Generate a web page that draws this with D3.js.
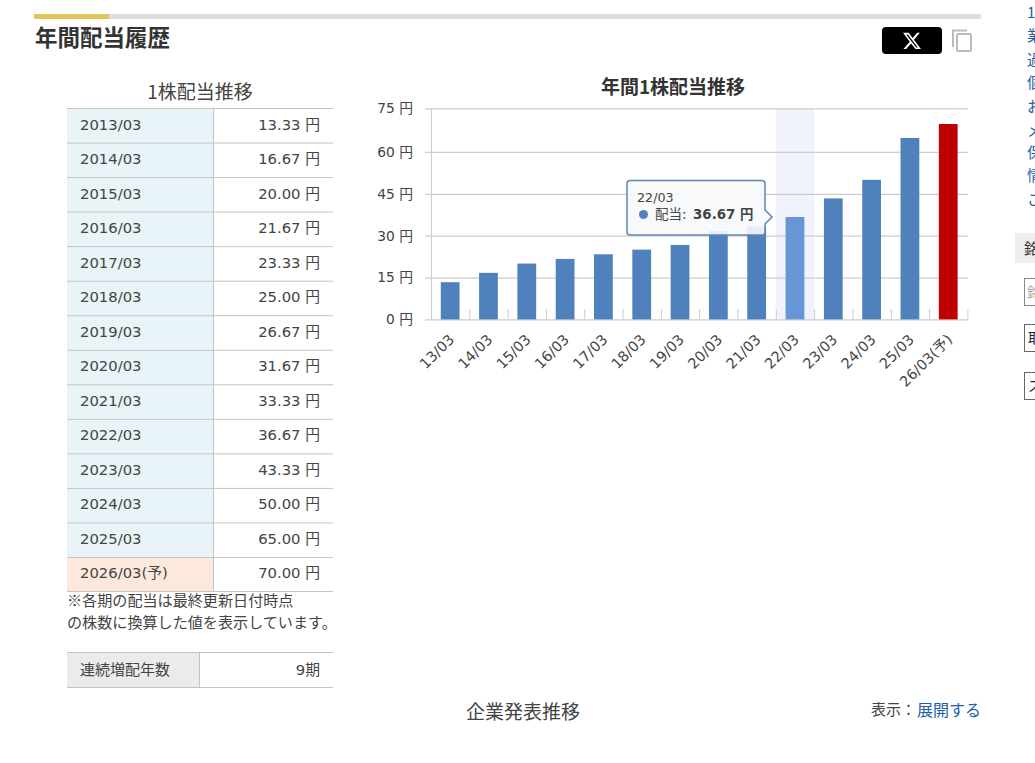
<!DOCTYPE html>
<html lang="ja">
<head>
<meta charset="utf-8">
<script src="https://cdn.jsdelivr.net/npm/d3@7"></script>
<style>
html, body { margin: 0; padding: 0; background: #fff; overflow: hidden; }
svg { display: block; }
text { font-family: "DejaVu Sans", "Noto Sans CJK JP", sans-serif; fill: #444; }
.cjk { font-family: "Noto Sans CJK JP", sans-serif; }
</style>
</head>
<body>
<svg></svg>
<script>
const periods = ['2013/03','2014/03','2015/03','2016/03','2017/03','2018/03','2019/03','2020/03','2021/03','2022/03','2023/03','2024/03','2025/03','2026/03(予)']
const dividends = [13.33,16.67,20.00,21.67,23.33,25.00,26.67,31.67,33.33,36.67,43.33,50.00,65.00,70.00]
const shortLabels = ['13/03','14/03','15/03','16/03','17/03','18/03','19/03','20/03','21/03','22/03','23/03','24/03','25/03','26/03(予)']
const yTicks = [0,15,30,45,60,75]
const sideLinks = ['1','業','過','個','お','メ','保','情','こ']
const sideLinkY = [12,35,59,82,106,130,152,175,199]

const svg = d3.select('svg').attr('width', 1035).attr('height', 763)

// header
svg.append('rect').attr('x', 34).attr('y', 14).attr('width', 947).attr('height', 5).attr('fill', '#dedede')
svg.append('rect').attr('x', 34).attr('y', 14).attr('width', 75).attr('height', 5).attr('fill', '#e3c257')
svg.append('text').attr('class', 'cjk').attr('x', 35).attr('y', 46)
  .attr('font-size', 22.5).attr('font-weight', 700).style('fill', '#333').text('年間配当履歴')
svg.append('rect').attr('x', 882).attr('y', 27).attr('width', 60).attr('height', 27).attr('rx', 4).attr('fill', '#000')
svg.append('path').attr('transform', 'translate(902,31) scale(0.83)').attr('fill', '#fff')
  .attr('d', 'M18.244 2.25h3.308l-7.227 8.26 8.502 11.24H16.17l-5.214-6.817L4.99 21.75H1.68l7.73-8.835L1.254 2.25H8.08l4.713 6.231zm-1.161 17.52h1.833L7.084 4.126H5.117z')
svg.append('path').attr('d', 'M953 47V30.5H967').attr('fill', 'none').attr('stroke', '#bbb').attr('stroke-width', 2)
svg.append('rect').attr('x', 957).attr('y', 34).attr('width', 14).attr('height', 17).attr('rx', 1)
  .attr('fill', '#fff').attr('stroke', '#bbb').attr('stroke-width', 2)

// dividend table
const rowScale = d3.scaleBand().domain(periods).range([108, 591.5])
const table = svg.append('g')
table.append('text').attr('class', 'cjk').attr('x', 200).attr('y', 99).attr('text-anchor', 'middle')
  .attr('font-size', 19).text('1株配当推移')
const rows = table.selectAll('g').data(periods).enter().append('g')
  .attr('transform', d => `translate(0,${rowScale(d)})`)
rows.append('rect').attr('x', 67).attr('width', 146).attr('height', rowScale.bandwidth())
  .attr('fill', (d, i) => i === periods.length - 1 ? '#fde9dc' : '#e8f4f7')
rows.append('line').attr('x1', 67).attr('x2', 333).attr('y1', 0.5).attr('y2', 0.5).attr('stroke', '#c4c4c4')
rows.append('text').attr('x', 80).attr('y', 21.5).attr('font-size', 14.8).text(d => d)
rows.append('text').attr('x', 320).attr('y', 21.5).attr('text-anchor', 'end').attr('font-size', 14.8)
  .text((d, i) => dividends[i].toFixed(2) + ' 円')
table.append('line').attr('x1', 67).attr('x2', 333).attr('y1', 591.5).attr('y2', 591.5).attr('stroke', '#c4c4c4')
table.append('line').attr('x1', 213.5).attr('x2', 213.5).attr('y1', 108).attr('y2', 591.5).attr('stroke', '#c4c4c4')

svg.append('text').attr('class', 'cjk').attr('x', 67).attr('y', 606).attr('font-size', 15.1).text('※各期の配当は最終更新日付時点')
svg.append('text').attr('class', 'cjk').attr('x', 67).attr('y', 628).attr('font-size', 15.1).text('の株数に換算した値を表示しています。')

// consecutive increase row
svg.append('rect').attr('x', 67).attr('y', 652).attr('width', 132).attr('height', 35).attr('fill', '#ebebeb')
svg.append('line').attr('x1', 67).attr('x2', 333).attr('y1', 652.5).attr('y2', 652.5).attr('stroke', '#c4c4c4')
svg.append('line').attr('x1', 67).attr('x2', 333).attr('y1', 687.5).attr('y2', 687.5).attr('stroke', '#c4c4c4')
svg.append('line').attr('x1', 199.5).attr('x2', 199.5).attr('y1', 652).attr('y2', 687).attr('stroke', '#c4c4c4')
svg.append('text').attr('class', 'cjk').attr('x', 80).attr('y', 675).attr('font-size', 15).text('連続増配年数')
svg.append('text').attr('x', 320).attr('y', 675).attr('text-anchor', 'end').attr('font-size', 14.8).text('9期')

// footer
svg.append('text').attr('class', 'cjk').attr('x', 523).attr('y', 719).attr('text-anchor', 'middle')
  .attr('font-size', 19).text('企業発表推移')
svg.append('text').attr('class', 'cjk').attr('x', 871).attr('y', 715).attr('font-size', 15).text('表示：')
svg.append('text').attr('class', 'cjk').attr('x', 981).attr('y', 716).attr('text-anchor', 'end')
  .attr('font-size', 16).style('fill', '#1a5fa8').text('展開する')

// chart
const x = d3.scaleBand().domain(shortLabels).range([431, 967.4]).paddingInner(0.51).paddingOuter(0.255)
// the top gridline of the reference sits a little higher than the rest of the axis spacing
const y = d3.scaleLinear().domain([0, 70, 75]).range([319.4, 124, 108.3])
const hovered = '22/03'
const step = x.step()

svg.append('text').attr('class', 'cjk').attr('x', 673).attr('y', 94).attr('text-anchor', 'middle')
  .attr('font-size', 19).attr('font-weight', 700).style('fill', '#333').text('年間1株配当推移')

svg.append('rect').attr('x', x(hovered) + x.bandwidth() / 2 - step / 2).attr('y', y(75))
  .attr('width', step).attr('height', y(0) - y(75)).attr('fill', '#f0f3fb')

const yAxis = svg.append('g').attr('transform', 'translate(431,0)')
  .call(d3.axisLeft(y).tickValues(yTicks).tickSize(0).tickPadding(18).tickFormat(d => d + ' 円'))
yAxis.select('.domain').attr('stroke', '#ccc')
yAxis.selectAll('.tick line').attr('x1', -6).attr('x2', 537).attr('stroke', '#ccc').attr('stroke-width', 1.3)
yAxis.selectAll('.tick text').attr('font-size', 13.8).style('font-family', null)

// ticks sit between the bands and point upward
svg.append('g').selectAll('line').data(shortLabels.concat('end')).enter().append('line')
  .attr('x1', (d, i) => 431 + step * i + 0.5).attr('x2', (d, i) => 431 + step * i + 0.5)
  .attr('y1', 309).attr('y2', y(0)).attr('stroke', '#ccc')

svg.append('g').selectAll('rect').data(shortLabels).enter().append('rect')
  .attr('x', d => x(d)).attr('width', x.bandwidth())
  .attr('y', (d, i) => y(dividends[i])).attr('height', (d, i) => y(0) - y(dividends[i]))
  .attr('fill', (d, i) => i === shortLabels.length - 1 ? '#c00000' : d === hovered ? '#6696d6' : '#4f81bd')

const xAxis = svg.append('g').attr('transform', `translate(0,${y(0)})`)
  .call(d3.axisBottom(x).tickSize(0).tickPadding(0))
xAxis.select('.domain').remove()
xAxis.selectAll('.tick text')
  .attr('font-size', 14.4)
  .style('font-family', null)
  .attr('text-anchor', 'end')
  .attr('dy', 0)
  .attr('transform', 'translate(5,21) rotate(-45)')

// tooltip
const i22 = shortLabels.indexOf(hovered)
const tip = svg.append('g').attr('transform', 'translate(627,180)')
tip.append('path')
  .attr('d', 'M3 0.5H135a3 3 0 0 1 3 3V30L145 37L138 44V52a3 3 0 0 1 -3 3H3a3 3 0 0 1 -3 -3V3.5a3 3 0 0 1 3 -3Z')
  .attr('fill', 'rgba(247,248,250,0.9)').attr('stroke', '#5f86b5').attr('stroke-width', 1.5)
tip.append('text').attr('x', 10).attr('y', 22).attr('font-size', 12.7).text(hovered)
tip.append('circle').attr('cx', 16.5).attr('cy', 34.5).attr('r', 4.5).attr('fill', '#4f81bd')
tip.append('text').attr('x', 28).attr('y', 39).attr('font-size', 13.5).text('配当: ')
tip.append('text').attr('x', 66).attr('y', 39).attr('font-size', 13.4).attr('font-weight', 700)
  .text(dividends[i22].toFixed(2) + ' 円')

// right column cut off by the window
svg.append('g').selectAll('text').data(sideLinks).enter().append('text')
  .attr('class', 'cjk').attr('x', 1027).attr('y', (d, i) => sideLinkY[i] + 6)
  .attr('font-size', 15).style('fill', '#1a5fa8').text(d => d)
svg.append('rect').attr('x', 1015).attr('y', 233).attr('width', 20).attr('height', 30).attr('fill', '#eee')
svg.append('text').attr('class', 'cjk').attr('x', 1024).attr('y', 254).attr('font-size', 15).style('fill', '#333').text('銘')
svg.append('rect').attr('x', 1024.5).attr('y', 278.5).attr('width', 20).attr('height', 27).attr('fill', '#fff').attr('stroke', '#888')
svg.append('text').attr('class', 'cjk').attr('x', 1027).attr('y', 297).attr('font-size', 14).style('fill', '#aaa').text('銘')
svg.append('rect').attr('x', 1024.5).attr('y', 324.5).attr('width', 20).attr('height', 27).attr('fill', '#fff').attr('stroke', '#666')
svg.append('text').attr('class', 'cjk').attr('x', 1028).attr('y', 343).attr('font-size', 14).style('fill', '#222').text('取')
svg.append('rect').attr('x', 1024.5).attr('y', 372.5).attr('width', 20).attr('height', 27).attr('fill', '#fff').attr('stroke', '#666')
svg.append('text').attr('class', 'cjk').attr('x', 1028).attr('y', 391).attr('font-size', 14).style('fill', '#222').text('ス')
</script>
</body>
</html>
